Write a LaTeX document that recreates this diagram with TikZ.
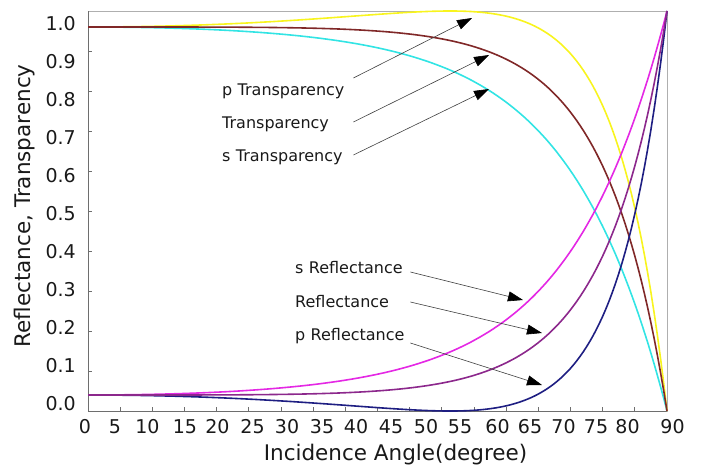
\documentclass[tikz,border=0pt]{standalone}
\usepackage{fontspec}
\setmainfont{DejaVu Sans}
\usetikzlibrary{arrows.meta}

% Curve colours
\definecolor{cYel}{RGB}{248,244,30}
\definecolor{cBrown}{RGB}{128,40,40}
\definecolor{cCyan}{RGB}{50,228,228}
\definecolor{cMag}{RGB}{228,40,228}
\definecolor{cPurp}{RGB}{140,40,140}
\definecolor{cNavy}{RGB}{30,30,130}
\definecolor{frameGray}{RGB}{175,175,175}
\definecolor{axisGray}{RGB}{110,110,110}

\begin{document}
\begin{tikzpicture}[x=1pt,y=-1pt,
  % Fresnel coefficients for glass, n = 1.5
  declare function={
    ct(\t)=sqrt(1-(sin(\t)/1.5)*(sin(\t)/1.5));
    rsv(\t)=(cos(\t)-1.5*ct(\t))/(cos(\t)+1.5*ct(\t));
    rpv(\t)=(1.5*cos(\t)-ct(\t))/(1.5*cos(\t)+ct(\t));
    rs(\t)=rsv(\t)*rsv(\t);
    rp(\t)=rpv(\t)*rpv(\t);
  },
  curve/.style={line width=1.6pt, line join=round},
  ticklab/.style={inner sep=0pt, font=\fontsize{19}{23}\selectfont, text=black!90},
  axtitle/.style={inner sep=0pt, font=\fontsize{21.5}{26}\selectfont, text=black!90},
  annot/.style={inner sep=0pt, anchor=base west, align=left,
                font=\fontsize{16}{19}\selectfont, text=black!90},
  conn/.style={draw=black!75, line width=0.6pt,
               -{Triangle[length=15pt,width=10pt,color=black]}},
  tick/.style={draw=axisGray, line width=0.8pt}
]
\useasboundingbox (0,0) rectangle (703,466);

% plot frame
\draw[frameGray, line width=0.8pt] (88,11) rectangle (667,411);
\draw[axisGray, line width=1pt] (88,11) -- (88,411) -- (667,411);

% ticks
\foreach \k in {1,...,9}
  \draw[tick] (88,{411-40*\k}) -- (92,{411-40*\k});
\foreach \k in {1,...,17}
  \draw[tick] ({88+32.1667*\k},411) -- ({88+32.1667*\k},407);

% y tick labels
\foreach \v [count=\i from 0] in {0.0,0.1,0.2,0.3,0.4,0.5,0.6,0.7,0.8,0.9,1.0}
  \node[ticklab, anchor=east] (yl\i) at (76,{404-38.05*\i}) {\v};

% x tick labels
\foreach \v/\xx [count=\i] in {0/85,5/115,10/147.5,15/185,20/217.5,25/252.5,30/287,
    35/322,40/356,45/391,50/426,55/460,60/497.5,65/530,70/563.5,75/596,80/627.5,90/672.5}
  \node[ticklab, anchor=center] (xl\i) at (\xx,426.5) {\v};

% axis titles
\node[axtitle, anchor=base] (xtitle) at (395.5,460) {Incidence Angle(degree)};
\node[axtitle, anchor=base, rotate=90] (ytitle) at (30,206) {Reflectance, Transparency};

% transmittance curves
\draw[cCyan, curve] plot[domain=0:90, samples=181, variable=\t]
  ({88+6.43333*\t},{411-400*(1-rs(\t))});
\draw[cYel, curve] plot[domain=0:90, samples=181, variable=\t]
  ({88+6.43333*\t},{411-400*(1-rp(\t))});
\draw[cBrown, curve] plot[domain=0:90, samples=181, variable=\t]
  ({88+6.43333*\t},{411-400*(1-0.5*(rs(\t)+rp(\t)))});

% reflectance curves
\draw[cMag, curve] plot[domain=0:90, samples=181, variable=\t]
  ({88+6.43333*\t},{411-400*rs(\t)});
\draw[cNavy, curve] plot[domain=0:90, samples=181, variable=\t]
  ({88+6.43333*\t},{411-400*rp(\t)});
\draw[cPurp, curve] plot[domain=0:90, samples=181, variable=\t]
  ({88+6.43333*\t},{411-400*0.5*(rs(\t)+rp(\t))});

% curve labels
\node[annot, text width=131pt] (ptl) at (222,95)  {p Transparency};
\node[annot, text width=131pt] (tl)  at (222,128) {Transparency};
\node[annot, text width=131pt] (stl) at (222,161) {s Transparency};
\node[annot, text width=115pt] (srl) at (295,273) {s Reflectance};
\node[annot, text width=115pt] (rl)  at (295,307) {Reflectance};
\node[annot, text width=115pt] (prl) at (295,340) {p Reflectance};

% arrow targets on the curves
\coordinate (ptip)  at (472,18);
\coordinate (ttip)  at (489,55);
\coordinate (stip)  at (489,89);
\coordinate (srtip) at (523,300);
\coordinate (rtip)  at (542,333);
\coordinate (prtip) at (542,385);

\draw[conn] ([yshift=17pt]ptl.base east) -- (ptip);
\draw[conn] ([yshift=6pt]tl.base east) -- (ttip);
\draw[conn] ([yshift=6pt]stl.base east) -- (stip);
\draw[conn] ([yshift=1pt]srl.base east) -- (srtip);
\draw[conn] ([yshift=5pt]rl.base east) -- (rtip);
\draw[conn] ([yshift=-3pt]prl.base east) -- (prtip);
\end{tikzpicture}
\end{document}
